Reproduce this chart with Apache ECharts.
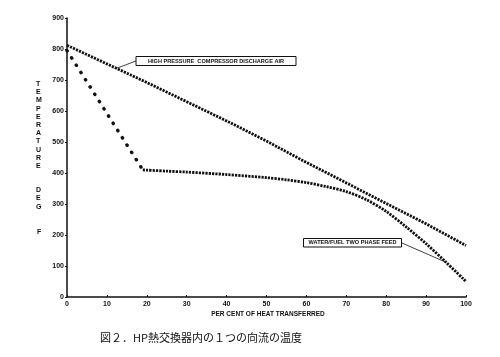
<!DOCTYPE html>
<html>
<head>
<meta charset="utf-8">
<script src="https://cdn.jsdelivr.net/npm/echarts@6/dist/echarts.min.js"></script>
<style>
html,body{margin:0;padding:0;background:#fff;}
#chart{width:500px;height:357px;}
</style>
</head>
<body>
<div id="chart"></div>
<script>
// ---- data ----
var airX     = [0, 10, 20, 30, 40, 50, 60, 70, 80, 90, 100];
var airTemp  = [812, 752, 692, 630, 568, 503, 434, 368, 302, 236, 166];

var steepX    = [0, 19];
var steepTemp = [795, 410];

var feedX    = [19, 25, 30, 40, 50, 55, 60, 65, 70, 75, 80, 85, 90, 95, 100];
var feedTemp = [410, 406, 403, 395, 385, 378, 369, 356, 340, 314, 276, 226, 172, 112, 50];

var xTicks = [0, 10, 20, 30, 40, 50, 60, 70, 80, 90, 100];
var yTicks = [0, 100, 200, 300, 400, 500, 600, 700, 800, 900];

var airLabel  = 'HIGH PRESSURE  COMPRESSOR DISCHARGE AIR';
var feedLabel = 'WATER/FUEL TWO PHASE FEED';
var yName1 = 'TEMPERATURE', yName2 = 'DEG', yName3 = 'F';
var xName = 'PER CENT OF HEAT TRANSFERRED';
var caption = '図２．HP熱交換器内の１つの向流の温度';

function pairs(xs, ys){ return xs.map(function(x,i){ return [x, ys[i]]; }); }
function stack(s){ return s.split('').join('\n'); }

var chart = echarts.init(document.getElementById('chart'), null, {renderer:'canvas'});
var FONT = '"Liberation Sans", Arial, sans-serif';

var option = {
  animation: false,
  backgroundColor: '#fff',
  grid: {left: 67, right: 34, top: 18, bottom: 60, outerBoundsMode: 'none'},
  xAxis: {
    type: 'value', min: 0, max: 100, interval: 10,
    axisLine: {lineStyle: {color: '#111', width: 1.5}},
    axisTick: {show: true, length: 2, inside: true, lineStyle: {color: '#111', width: 1}},
    axisLabel: {color: '#111', fontSize: 7, fontWeight: 'bold', fontFamily: FONT, margin: 4,
      formatter: function(v){ return xTicks.indexOf(v) >= 0 ? String(v) : ''; }},
    splitLine: {show: false}
  },
  yAxis: {
    type: 'value', min: 0, max: 900, interval: 100,
    axisLine: {show: true, lineStyle: {color: '#111', width: 1.5}},
    axisTick: {show: true, length: 2, lineStyle: {color: '#111', width: 1}},
    axisLabel: {color: '#111', fontSize: 7, fontWeight: 'bold', fontFamily: FONT, margin: 3,
      formatter: function(v){ return yTicks.indexOf(v) >= 0 ? String(v) : ''; }},
    splitLine: {show: false}
  },
  series: [
    {
      name: airLabel, type: 'line', data: pairs(airX, airTemp), showSymbol: false,
      lineStyle: {color: '#111', width: 2.8, type: [2.2, 1.1]}
    },
    {
      name: feedLabel + ' (steep)', type: 'line', data: pairs(steepX, steepTemp), showSymbol: false,
      lineStyle: {color: '#111', width: 3.4, type: [0.4, 8.2], cap: 'round'}
    },
    {
      name: feedLabel, type: 'line', data: pairs(feedX, feedTemp), showSymbol: false,
      smooth: 0.3,
      lineStyle: {color: '#111', width: 2.8, type: [2.2, 1.1]}
    }
  ]
};
chart.setOption(option);

// leader-line targets through the chart's own scales
var airTarget = chart.convertToPixel({gridIndex: 0}, [12.4, airTemp[1] + (airTemp[2]-airTemp[1])*0.24]);
var feedTarget = chart.convertToPixel({gridIndex: 0}, [feedX[13], feedTemp[13]]);

chart.setOption({
  graphic: [
    // y-axis name stacked letters
    {type: 'text', left: 36, top: 80, style: {text: stack(yName1), fill: '#111', font: 'bold 7px ' + FONT, lineHeight: 8.2, align: 'center'}},
    {type: 'text', left: 36, top: 186, style: {text: stack(yName2), fill: '#111', font: 'bold 7px ' + FONT, lineHeight: 8.3, align: 'center'}},
    {type: 'text', left: 37, top: 229, style: {text: yName3, fill: '#111', font: 'bold 7px ' + FONT}},
    // x-axis name
    {type: 'text', x: 268, y: 314, style: {text: xName, fill: '#111', font: 'bold 6.5px ' + FONT, align: 'center', verticalAlign: 'middle'}},
    // caption
    {type: 'text', x: 201, y: 338, style: {text: caption, fill: '#111', font: '11px "Noto Sans CJK JP", sans-serif', align: 'center', verticalAlign: 'middle'}},
    // air annotation box
    {type: 'rect', shape: {x: 136, y: 56.5, width: 160, height: 9}, style: {fill: '#fff', stroke: '#111', lineWidth: 1}},
    {type: 'text', x: 216, y: 61, style: {text: airLabel, fill: '#111', font: 'bold 5.6px ' + FONT, align: 'center', verticalAlign: 'middle'}},
    {type: 'line', shape: {x1: 136, y1: 61, x2: airTarget[0], y2: airTarget[1]}, style: {stroke: '#111', lineWidth: 0.8}},
    // feed annotation box
    {type: 'rect', shape: {x: 303.5, y: 238.5, width: 98, height: 8.5}, style: {fill: '#fff', stroke: '#111', lineWidth: 1}},
    {type: 'text', x: 352.5, y: 242.8, style: {text: feedLabel, fill: '#111', font: 'bold 5.6px ' + FONT, align: 'center', verticalAlign: 'middle'}},
    {type: 'line', shape: {x1: 401.5, y1: 242.8, x2: feedTarget[0], y2: feedTarget[1]}, style: {stroke: '#111', lineWidth: 0.8}}
  ]
});
</script>
</body>
</html>
